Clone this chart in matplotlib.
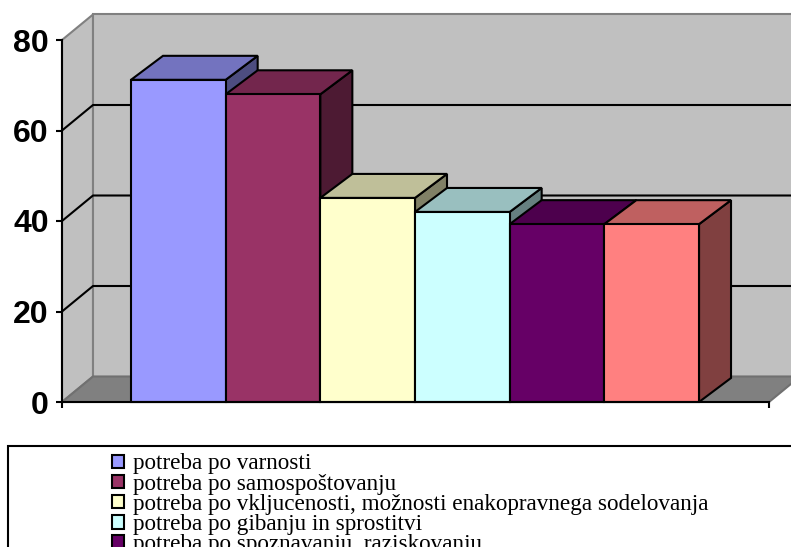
import matplotlib
matplotlib.use('Agg')
import matplotlib.pyplot as plt
from matplotlib.patches import Patch, Polygon, Rectangle

W, H = 791, 547

labels = ['potreba po varnosti',
          'potreba po samospoštovanju',
          'potreba po vkljucenosti, možnosti enakopravnega sodelovanja',
          'potreba po gibanju in sprostitvi',
          'potreba po spoznavanju, raziskovanju']
values = [71.2, 68.0, 45.1, 42.0, 39.3, 39.3]
colors = ['#9999FF', '#993366', '#FFFFCC', '#CCFFFF', '#660066', '#FF8080']
yticks = [0, 20, 40, 60, 80]


def shade(c, f):
    rgb = matplotlib.colors.to_rgb(c)
    return tuple(v * f for v in rgb)


fig = plt.figure(figsize=(W / 100, H / 100), dpi=100)
ax = fig.add_axes([62 / W, 1 - 402 / H, 707 / W, 362 / H], facecolor='none')

px_x = 94.67            # pixels per bar
px_y = 362 / 80
ax.set_xlim(-69 / px_x, 638 / px_x)
ax.set_ylim(0, 80)

lw = 1.5
wall_dx, wall_dy = 31 / px_x, 25.5 / px_y
bar_dx, bar_dy = 32 / px_x, 24 / px_y
x0 = ax.get_xlim()[0]
x1 = ax.get_xlim()[1]

# walls and floor
ax.add_patch(Polygon([(x0, 0), (x0 + wall_dx, wall_dy), (x0 + wall_dx, 80 + wall_dy), (x0, 80)],
                     fc='#C0C0C0', ec='#808080', lw=lw, clip_on=False, zorder=1))
ax.add_patch(Polygon([(x0 + wall_dx, wall_dy), (x1 + 2, wall_dy), (x1 + 2, 80 + wall_dy), (x0 + wall_dx, 80 + wall_dy)],
                     fc='#C0C0C0', ec='#808080', lw=lw, clip_on=False, zorder=1))
ax.add_patch(Polygon([(x0, 0), (x0 + wall_dx, wall_dy), (x1 + wall_dx, wall_dy), (x1, 0)],
                     fc='#808080', ec='#707070', lw=lw, clip_on=False, zorder=1))

# gridlines run along side wall, then back wall
for t in yticks[1:-1]:
    ax.plot([x0, x0 + wall_dx, x1 + 2], [t, t + wall_dy, t + wall_dy], color='black',
            lw=lw, clip_on=False, zorder=2)

for i, v in enumerate(values):
    c = colors[i]
    z = 3 + i
    ax.add_patch(Polygon([(i + 1, 0), (i + 1 + bar_dx, bar_dy), (i + 1 + bar_dx, v + bar_dy), (i + 1, v)],
                         fc=shade(c, 0.5), ec='black', lw=lw, joinstyle='miter', clip_on=False, zorder=z))
    ax.add_patch(Polygon([(i, v), (i + bar_dx, v + bar_dy), (i + 1 + bar_dx, v + bar_dy), (i + 1, v)],
                         fc=shade(c, 0.75), ec='black', lw=lw, joinstyle='miter', clip_on=False, zorder=z))
    ax.add_patch(Rectangle((i, 0), 1, v, fc=c, ec='black', lw=lw, joinstyle='miter', clip_on=False, zorder=z))

for s in ['top', 'right']:
    ax.spines[s].set_visible(False)
for s in ['left', 'bottom']:
    ax.spines[s].set_linewidth(lw)
    ax.spines[s].set_zorder(20)

ax.set_yticks(yticks)
ax.set_xticks([x0, x1])
ax.set_xticklabels([])
ax.tick_params(axis='y', length=4.5, width=lw, pad=5)
ax.tick_params(axis='x', length=4.5, width=lw)
for t in ax.get_yticklabels():
    t.set_fontfamily('Liberation Sans')
    t.set_fontweight('bold')
    t.set_fontsize(23)

# legend box runs off the picture on the right and at the bottom,
# the last row is cut by the picture edge as in the original
fig.add_artist(Rectangle((8 / W, -0.1), 1, 1 - 446 / H + 0.1, transform=fig.transFigure,
                         fc='white', ec='black', lw=lw))
handles = [Patch(fc=colors[i], ec='black', lw=lw, label=labels[i]) for i in range(len(labels))]
fig.legend(handles=handles, loc='upper left', bbox_to_anchor=(112 / W, 1 - 453.5 / H),
           frameon=False, borderpad=0, borderaxespad=0, labelspacing=-0.035,
           handlelength=0.52, handleheight=0.52, handletextpad=0.37,
           prop={'family': 'Liberation Serif', 'size': 16.65})

fig.savefig('out.png', dpi=100)
